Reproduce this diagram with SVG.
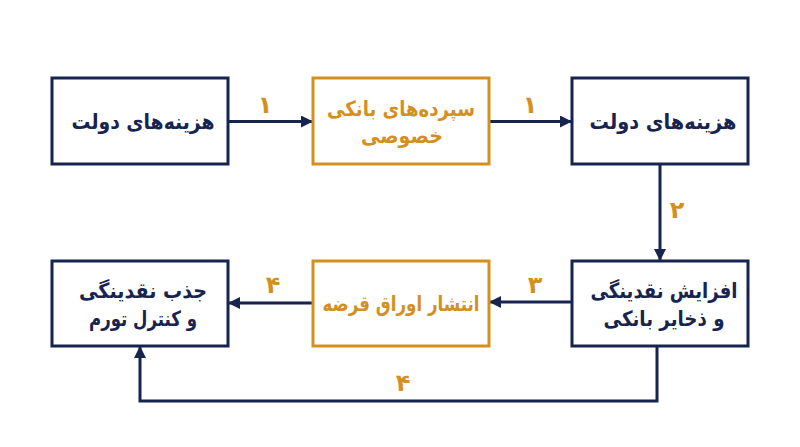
<svg xmlns="http://www.w3.org/2000/svg" width="800" height="447" viewBox="0 0 800 447">
<defs>
<marker id="ah" markerWidth="12" markerHeight="12" refX="11" refY="6" orient="auto" markerUnits="userSpaceOnUse"><path d="M0,0 L12,6 L0,12 z" fill="#17244f"/></marker>
<style>
.nb{fill:#fff;stroke:#17244f;stroke-width:3}
.ob{fill:#fff;stroke:#d4901e;stroke-width:3}
.t{font-family:"DejaVu Sans","Noto Sans",sans-serif;font-weight:bold;font-size:21px;text-anchor:middle;direction:rtl}
.tn{fill:#17244f}
.to{fill:#d4901e}
.num{font-family:"DejaVu Sans",sans-serif;font-weight:bold;font-size:24px;fill:#d4901e;text-anchor:middle}
.c{fill:none;stroke:#17244f;stroke-width:3}
</style>
</defs>
<rect width="800" height="447" fill="#fff"/>
<g id="connectors">
<line class="c" x1="228" y1="121.5" x2="312" y2="121.5" marker-end="url(#ah)"/>
<line class="c" x1="489" y1="121.5" x2="571" y2="121.5" marker-end="url(#ah)"/>
<line class="c" x1="660" y1="164" x2="660" y2="260" marker-end="url(#ah)"/>
<line class="c" x1="572" y1="302" x2="490" y2="302" marker-end="url(#ah)"/>
<line class="c" x1="313" y1="303" x2="229" y2="303" marker-end="url(#ah)"/>
<polyline class="c" points="657,346 657,401 140,401 140,347" marker-end="url(#ah)"/>
<text class="num" x="265" y="113">۱</text>
<text class="num" x="530" y="113">۱</text>
<text class="num" x="677" y="218">۲</text>
<text class="num" x="535" y="293">۳</text>
<text class="num" x="273" y="293">۴</text>
<text class="num" x="403" y="391">۴</text>
</g>
<g id="n1"><rect class="nb" x="52" y="78" width="176" height="86"/><text class="t tn" x="143" y="129" textLength="143" lengthAdjust="spacingAndGlyphs">هزینه‌های دولت</text></g>
<g id="n2"><rect class="ob" x="313" y="78" width="176" height="86"/><text class="t to" x="401" y="116" textLength="148" lengthAdjust="spacingAndGlyphs">سپرده‌های بانکی</text><text class="t to" x="402" y="143" textLength="82" lengthAdjust="spacingAndGlyphs">خصوصی</text></g>
<g id="n3"><rect class="nb" x="572" y="78" width="176" height="86"/><text class="t tn" x="663" y="129" textLength="147" lengthAdjust="spacingAndGlyphs">هزینه‌های دولت</text></g>
<g id="n4"><rect class="nb" x="572" y="261" width="176" height="85"/><text class="t tn" x="664" y="298" textLength="147" lengthAdjust="spacingAndGlyphs">افزایش نقدینگی</text><text class="t tn" x="664" y="326" textLength="121" lengthAdjust="spacingAndGlyphs">و ذخایر بانکی</text></g>
<g id="n5"><rect class="ob" x="313" y="261" width="176" height="85"/><text class="t to" x="401" y="311" textLength="157" lengthAdjust="spacingAndGlyphs">انتشار اوراق قرضه</text></g>
<g id="n6"><rect class="nb" x="52" y="261" width="176" height="85"/><text class="t tn" x="143" y="298" textLength="128" lengthAdjust="spacingAndGlyphs">جذب نقدینگی</text><text class="t tn" x="143" y="326" textLength="108" lengthAdjust="spacingAndGlyphs">و کنترل تورم</text></g>
</svg>
